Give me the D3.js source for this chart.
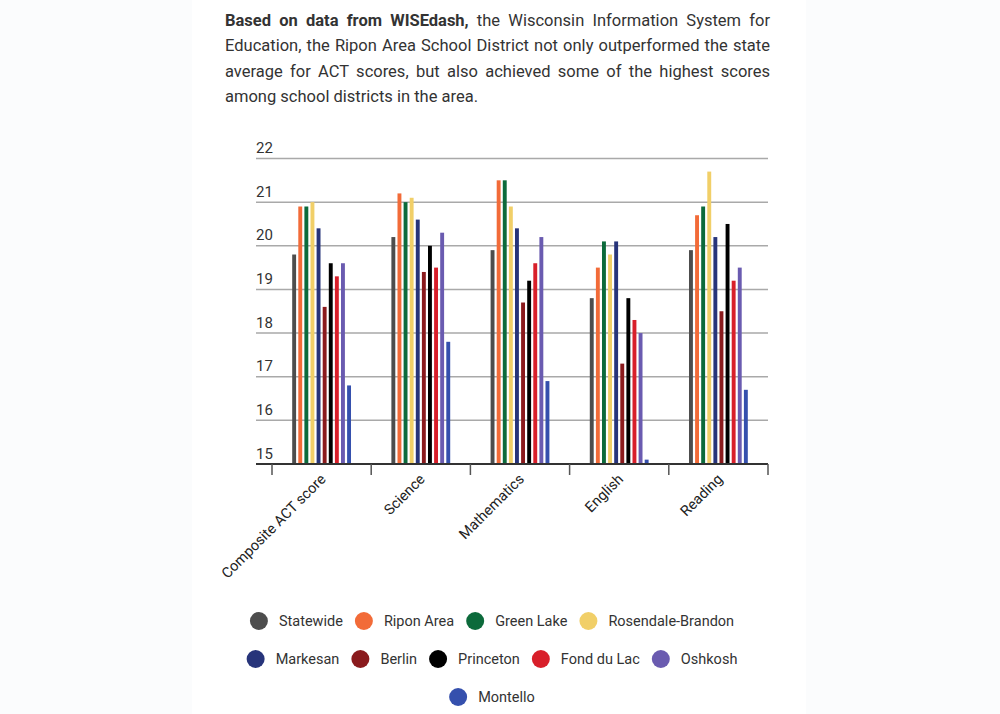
<!DOCTYPE html>
<html>
<head>
<meta charset="utf-8">
<script src="https://cdn.jsdelivr.net/npm/d3@7"></script>
<style>
  body { margin: 0; background: #fbfcfd; font-family: Roboto, "Noto Sans", sans-serif; }
  #page { position: relative; width: 1000px; height: 714px; overflow: hidden; }
  #column { position: absolute; left: 192px; top: 0; width: 614px; height: 714px; background: #fff; }
  #chart { position: absolute; left: 0; top: 0; }
  #intro { position: absolute; left: 225px; top: 8px; width: 545px; font-size: 16.5px; line-height: 25.3px; color: #333; }
  #intro div { text-align: justify; text-align-last: justify; white-space: nowrap; }
  #intro div.last { text-align-last: left; }
  #intro b { font-weight: 700; }
</style>
</head>
<body>
<div id="page">
  <div id="column"></div>
  <svg id="chart" width="1000" height="714"></svg>
  <div id="intro"></div>
</div>
<script>
// ---- data ----
const introBold = "Based on data from WISEdash,";
const introLines = [
  " the Wisconsin Information System for",
  "Education, the Ripon Area School District not only outperformed the state",
  "average for ACT scores, but also achieved some of the highest scores",
  "among school districts in the area."
];

const categories = ["Composite ACT score", "Science", "Mathematics", "English", "Reading"];
const districts = ["Statewide", "Ripon Area", "Green Lake", "Rosendale-Brandon", "Markesan",
                   "Berlin", "Princeton", "Fond du Lac", "Oshkosh", "Montello"];
const colors = ["#4d4d4d", "#f26b38", "#0c6a3b", "#f1cf68", "#27347a",
                "#8a1a1d", "#000000", "#d81f2a", "#6a5bb0", "#3550ad"];

// scores per district, in category order
const statewide   = [19.8, 20.2, 19.9, 18.8, 19.9];
const riponArea   = [20.9, 21.2, 21.5, 19.5, 20.7];
const greenLake   = [20.9, 21.0, 21.5, 20.1, 20.9];
const rosendale   = [21.0, 21.1, 20.9, 19.8, 21.7];
const markesan    = [20.4, 20.6, 20.4, 20.1, 20.2];
const berlin      = [18.6, 19.4, 18.7, 17.3, 18.5];
const princeton   = [19.6, 20.0, 19.2, 18.8, 20.5];
const fondDuLac   = [19.3, 19.5, 19.6, 18.3, 19.2];
const oshkosh     = [19.6, 20.3, 20.2, 18.0, 19.5];
const montello    = [16.8, 17.8, 16.9, 15.1, 16.7];
const series = [statewide, riponArea, greenLake, rosendale, markesan,
                berlin, princeton, fondDuLac, oshkosh, montello];

const yTicks = [15, 16, 17, 18, 19, 20, 21, 22];
const legendRows = [[0, 1, 2, 3], [4, 5, 6, 7, 8], [9]];

// ---- intro paragraph ----
const intro = d3.select("#intro");
introLines.forEach((t, i) => {
  const line = intro.append("div").classed("last", i === introLines.length - 1);
  if (i === 0) line.append("b").text(introBold);
  line.append("span").text(t);
});

// ---- chart ----
const svg = d3.select("#chart");
const left = 256, right = 768, axisX0 = 272;

const y = d3.scaleLinear().domain([15, 22]).range([464, 158.5]);
const x0 = d3.scaleBand().domain(categories).range([axisX0, right]);
const x1 = d3.scaleBand().domain(districts).range([18, x0.bandwidth() - 18]).padding(0.36);

// grid lines
svg.append("g").selectAll("line").data(yTicks.filter(d => d > 15)).enter()
  .append("line")
  .attr("x1", left).attr("x2", right)
  .attr("y1", d => y(d)).attr("y2", d => y(d))
  .attr("stroke", "#a9a9a9").attr("stroke-width", 1.5);

// y labels sit above their line
svg.append("g").selectAll("text").data(yTicks).enter()
  .append("text")
  .attr("x", left).attr("y", d => y(d) - 5.5)
  .attr("font-size", 15).attr("fill", "#333")
  .text(d => d);

// bars
const groups = svg.append("g").selectAll("g").data(categories).enter()
  .append("g")
  .attr("transform", d => "translate(" + x0(d) + ",0)");
groups.selectAll("rect")
  .data((c, ci) => districts.map((name, i) => ({name, color: colors[i], value: series[i][ci]})))
  .enter().append("rect")
  .attr("x", d => x1(d.name))
  .attr("width", x1.bandwidth())
  .attr("y", d => y(d.value))
  .attr("height", d => y(15) - y(d.value))
  .attr("fill", d => d.color);

// x axis
svg.append("line")
  .attr("x1", left).attr("x2", right)
  .attr("y1", y(15)).attr("y2", y(15))
  .attr("stroke", "#333").attr("stroke-width", 2);
const edges = categories.map(c => x0(c)).concat([right]);
svg.append("g").selectAll("line").data(edges).enter()
  .append("line")
  .attr("x1", d => d).attr("x2", d => d)
  .attr("y1", y(15)).attr("y2", y(15) + 11)
  .attr("stroke", "#555").attr("stroke-width", 1.5);

svg.append("g").selectAll("text").data(categories).enter()
  .append("text")
  .attr("transform", d => "translate(" + (x0(d) + x0.bandwidth() / 2 + 5) + "," + 480 + ") rotate(-45)")
  .attr("text-anchor", "end")
  .attr("font-size", 14.5).attr("fill", "#222")
  .text(d => d);

// legend
const legendY = [621, 659, 697];
const legendCenter = 492;
legendRows.forEach((row, ri) => {
  const g = svg.append("g");
  let cx = 0;
  row.forEach((idx, k) => {
    g.append("circle").attr("cx", cx + 9).attr("cy", legendY[ri]).attr("r", 9).attr("fill", colors[idx]);
    const t = g.append("text")
      .attr("x", cx + 29).attr("y", legendY[ri] + 5)
      .attr("font-size", 14.5).attr("fill", "#333")
      .text(districts[idx]);
    cx += 29 + t.node().getComputedTextLength() + 12;
  });
  const w = cx - 12;
  g.attr("transform", "translate(" + (legendCenter - w / 2) + ",0)");
});
</script>
</body>
</html>
